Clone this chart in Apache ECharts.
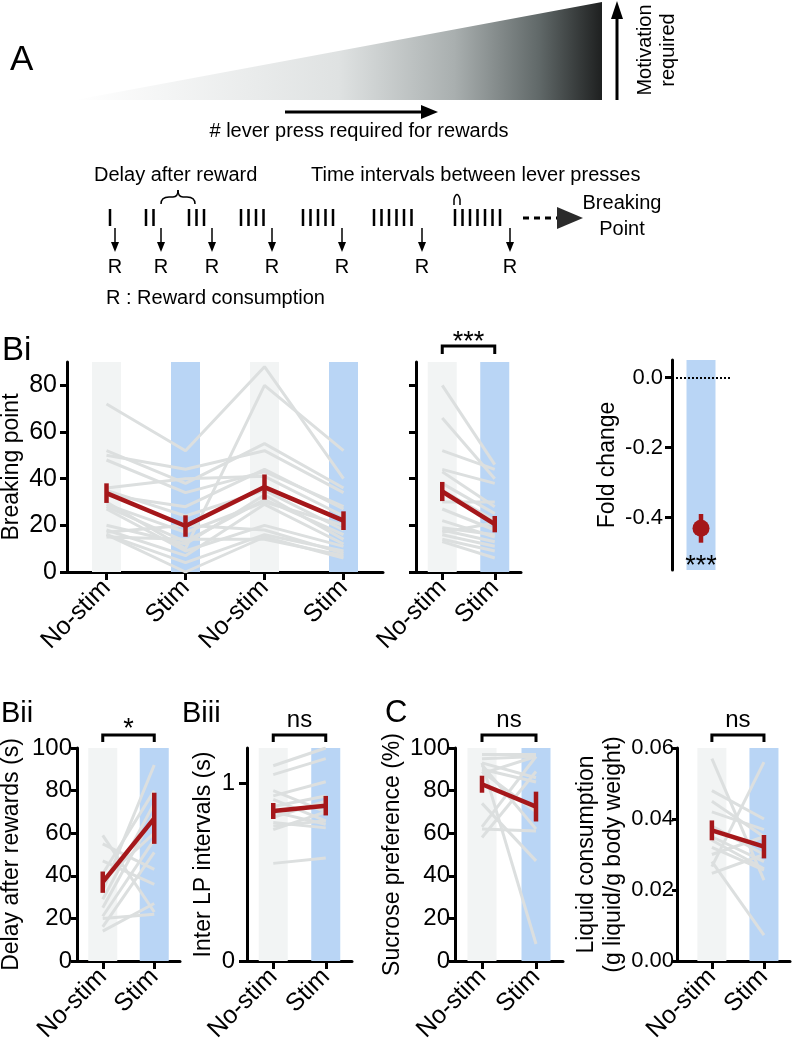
<!DOCTYPE html>
<html>
<head>
<meta charset="utf-8">
<script src="https://cdn.jsdelivr.net/npm/echarts@6/dist/echarts.min.js"></script>
<style>
  html, body { margin: 0; padding: 0; background: #fff; }
  #chart { width: 793px; height: 1047px; }
</style>
</head>
<body>
<div id="chart"></div>
<script>
// ---- data ----
const biCats = ['No-stim', 'Stim', 'No-stim', 'Stim']
const pairCats = ['No-stim', 'Stim']

// Bi: breaking point, each animal over 4 sessions
const biNoStimA = [72, 52, 50, 48, 36, 35, 33, 30, 28, 18, 17, 16, 16, 15, 29, 27, 20]
const biStimA = [52, 38, 44, 34, 40, 24, 28, 10, 13, 7, 20, 4, 0, 14, 17, 9, 12]
const biNoStimB = [88, 55, 52, 43, 41, 35, 44, 80, 31, 29, 18, 16, 15, 14, 30, 20, 33]
const biStimB = [40, 36, 34, 28, 24, 18, 27, 52, 16, 12, 8, 9, 6, 7, 20, 11, 14]
const biMean = [33.8, 19.7, 36.4, 22.0]
const biErr = [4.2, 4.6, 5.4, 4.0]

// Bi pooled
const poolNoStim = [80, 66, 52, 44, 43, 38, 35, 30, 27, 19, 18, 17, 16, 14, 13, 22]
const poolStim = [46, 40, 44, 38, 28, 25, 22, 30, 18, 16, 13, 21, 11, 9, 6, 15]
const poolMean = [34.5, 20.5]
const poolErr = [4.1, 3.5]

// Bi fold change
const foldMean = [-0.431]
const foldErr = [0.041]

// Bii delay after rewards (s)
const biiNoStim = [59, 55, 47, 41, 38, 33, 29, 25, 21, 16, 14, 20]
const biiStim = [23, 43, 36, 80, 60, 92, 74, 69, 57, 51, 27, 22]
const biiMean = [37, 67]
const biiErr = [5, 12]

// Biii inter LP intervals (s)
const biiiNoStim = [1.10, 1.05, 0.96, 0.93, 0.91, 0.87, 0.84, 0.81, 0.78, 0.76, 0.74, 0.55]
const biiiStim = [1.20, 1.14, 0.84, 1.01, 0.79, 0.93, 0.77, 0.90, 0.75, 0.79, 0.84, 0.58]
const biiiMean = [0.845, 0.875]
const biiiErr = [0.045, 0.055]

// C sucrose preference (%)
const sucNoStim = [97, 95, 93, 92, 90, 89, 88, 74, 63, 62, 58, 93]
const sucStim = [97, 96, 86, 62, 84, 70, 96, 47, 96, 61, 89, 8]
const sucMean = [83, 72.5]
const sucErr = [4, 7]

// C liquid consumption
const liqNoStim = [0.057, 0.048, 0.045, 0.042, 0.038, 0.035, 0.032, 0.030, 0.0266, 0.0247, 0.028, 0.034]
const liqStim = [0.0228, 0.040, 0.035, 0.037, 0.030, 0.028, 0.0256, 0.035, 0.056, 0.030, 0.0073, 0.026]
const liqMean = [0.0368, 0.0322]
const liqErr = [0.0028, 0.0033]

// schematic: presses per reward
const pressCounts = [1, 2, 3, 4, 5, 6, 7]

// ---- style ----
const FONT = 'Liberation Sans, Arial, sans-serif'
const RED = '#a5171a'
const GREY_LINE = '#dcdfdf'
const GREY_BG = '#f2f4f4'
const BLUE_BG = '#b9d5f5'
const BAR_W = 29

const chart = echarts.init(document.getElementById('chart'), null, { renderer: 'canvas' })

// panel layout
const panels = [
  { grid: { left: 67, top: 362, width: 316, height: 210 }, cats: biCats, xMin: -0.5, xMax: 3.5,
    yMin: 0, yMax: 90, ticks: [0, 20, 40, 60, 80], fs: 25, margin: 10, name: 'Breaking point', nameGap: 41 },
  { grid: { left: 416, top: 362, width: 105, height: 210 }, cats: pairCats, xMin: -0.5, xMax: 1.5,
    yMin: 0, yMax: 90, ticks: [0, 20, 40, 60, 80], labels: false },
  { grid: { left: 672, top: 360, width: 58, height: 210 }, cats: ['Stim'], xMin: -0.5, xMax: 0.5, noX: true,
    yMin: -0.55, yMax: 0.05, ticks: [-0.4, -0.2, 0], fs: 22, margin: 9, fmt: v => v.toFixed(1),
    name: 'Fold change', nameGap: 50 },
  { grid: { left: 77, top: 748, width: 103, height: 213 }, cats: pairCats, xMin: -0.5, xMax: 1.5,
    yMin: 0, yMax: 100, ticks: [0, 20, 40, 60, 80, 100], fs: 24, margin: 5, tickLen: 6,
    name: 'Delay after rewards (s)', nameGap: 52 },
  { grid: { left: 247, top: 748, width: 105, height: 213 }, cats: pairCats, xMin: -0.5, xMax: 1.5,
    yMin: 0, yMax: 1.2, ticks: [0, 1], fs: 24, margin: 12, tickLen: 8,
    name: 'Inter LP intervals (s)', nameGap: 30 },
  { grid: { left: 455, top: 748, width: 108, height: 213 }, cats: pairCats, xMin: -0.5, xMax: 1.5,
    yMin: 0, yMax: 100, ticks: [0, 20, 40, 60, 80, 100], fs: 24, margin: 5, tickLen: 6,
    name: 'Sucrose preference (%)', nameGap: 45 },
  { grid: { left: 677, top: 748, width: 113, height: 213 }, cats: pairCats, xMin: -0.67, xMax: 1.5,
    yMin: 0, yMax: 0.06, ticks: [0, 0.02, 0.04, 0.06], fs: 22, margin: 3, tickLen: 5, fmt: v => v.toFixed(2),
    name: 'Liquid consumption\n(g liquid/g body weight)', nameGap: 45 }
]

const grids = panels.map(p => Object.assign({ containLabel: false, outerBoundsMode: 'none' }, p.grid))

const xAxes = panels.map((p, i) => {
  const idx = p.cats.map((c, k) => k)
  return {
    gridIndex: i, type: 'value', min: p.xMin, max: p.xMax, show: !p.noX,
    axisLine: { show: true, onZero: false, lineStyle: { color: '#000', width: 3 } },
    axisTick: { show: true, length: 8, customValues: idx, lineStyle: { color: '#000', width: 3 } },
    axisLabel: {
      customValues: idx, rotate: 45, margin: 12, fontSize: 25, color: '#000', fontFamily: FONT,
      formatter: v => p.cats[Math.round(v)]
    },
    splitLine: { show: false }
  }
})

const yAxes = panels.map((p, i) => ({
  gridIndex: i, type: 'value', min: p.yMin, max: p.yMax,
  axisLine: { show: true, onZero: false, lineStyle: { color: '#000', width: 3 } },
  axisTick: { show: true, length: p.tickLen || 7, customValues: p.ticks, lineStyle: { color: '#000', width: 3 } },
  axisLabel: {
    show: p.labels !== false, customValues: p.ticks, margin: p.margin, fontSize: p.fs,
    color: '#000', fontFamily: FONT, formatter: p.fmt || (v => String(v))
  },
  splitLine: { show: false },
  name: p.name || '', nameLocation: 'middle', nameGap: p.nameGap, nameRotate: 90,
  nameTextStyle: { fontSize: 23, color: '#000', fontFamily: FONT, lineHeight: 27 }
}))

// shaded condition columns
function bgSeries(i, colors, lo, hi) {
  return {
    type: 'custom', xAxisIndex: i, yAxisIndex: i, silent: true, z: 1,
    encode: { x: 0, y: [1, 2] },
    data: colors.map((c, k) => [k, lo, hi]),
    renderItem: (params, api) => {
      const top = api.coord([api.value(0), api.value(2)])
      const bot = api.coord([api.value(0), api.value(1)])
      return {
        type: 'rect',
        shape: { x: top[0] - BAR_W / 2, y: top[1], width: BAR_W, height: bot[1] - top[1] },
        style: { fill: colors[params.dataIndex] }
      }
    }
  }
}

// one grey line per animal
function animalLines(i, cols) {
  return cols[0].map((v, s) => ({
    type: 'line', xAxisIndex: i, yAxisIndex: i, silent: true, z: 2, symbol: 'none',
    lineStyle: { color: GREY_LINE, width: 3 },
    data: cols.map((c, k) => [k, c[s]])
  }))
}

function meanLine(i, mean) {
  return {
    type: 'line', xAxisIndex: i, yAxisIndex: i, silent: true, z: 4, symbol: 'none',
    lineStyle: { color: RED, width: 4.5 },
    data: mean.map((m, k) => [k, m])
  }
}

function errBars(i, mean, err) {
  return {
    type: 'custom', xAxisIndex: i, yAxisIndex: i, silent: true, z: 5,
    encode: { x: 0, y: [1, 2] },
    data: mean.map((m, k) => [k, m - err[k], m + err[k]]),
    renderItem: (params, api) => {
      const a = api.coord([api.value(0), api.value(1)])
      const b = api.coord([api.value(0), api.value(2)])
      return {
        type: 'line',
        shape: { x1: a[0], y1: a[1], x2: b[0], y2: b[1] },
        style: { stroke: RED, lineWidth: 4.5, lineCap: 'butt' }
      }
    }
  }
}

// significance bracket above the two conditions
function bracket(i, yMax, text, lift, drop, textDy, fs) {
  return {
    type: 'custom', xAxisIndex: i, yAxisIndex: i, silent: true, z: 6, clip: false,
    encode: { x: 0, y: 1 },
    data: [[0, yMax]],
    renderItem: (params, api) => {
      const a = api.coord([0, yMax])
      const b = api.coord([1, yMax])
      const y = a[1] - lift
      return {
        type: 'group',
        children: [
          { type: 'polyline', shape: { points: [[a[0], y + drop], [a[0], y], [b[0], y], [b[0], y + drop]] },
            style: { stroke: '#000', lineWidth: 3, fill: null } },
          { type: 'text', style: {
            text: text, x: (a[0] + b[0]) / 2, y: y - textDy,
            textAlign: 'center', align: 'center', textVerticalAlign: 'middle', verticalAlign: 'middle',
            fontSize: fs, fontFamily: FONT, fill: '#000' } }
        ]
      }
    }
  }
}

const series = [
  // Bi sessions
  bgSeries(0, [GREY_BG, BLUE_BG, GREY_BG, BLUE_BG], 0, 90),
  ...animalLines(0, [biNoStimA, biStimA, biNoStimB, biStimB]),
  meanLine(0, biMean), errBars(0, biMean, biErr),
  // Bi pooled
  bgSeries(1, [GREY_BG, BLUE_BG], 0, 90),
  ...animalLines(1, [poolNoStim, poolStim]),
  meanLine(1, poolMean), errBars(1, poolMean, poolErr),
  bracket(1, 90, '***', 16, 8, 3, 27),
  // fold change
  bgSeries(2, [BLUE_BG], -0.55, 0.05),
  errBars(2, foldMean, foldErr),
  {
    type: 'scatter', xAxisIndex: 2, yAxisIndex: 2, silent: true, z: 6, symbolSize: 17,
    itemStyle: { color: RED, opacity: 1 },
    data: foldMean.map((m, k) => [k, m]),
    markLine: {
      silent: true, symbol: 'none', label: { show: false },
      lineStyle: { color: '#000', type: 'dotted', width: 2 },
      data: [{ yAxis: 0 }]
    }
  },
  {
    type: 'custom', xAxisIndex: 2, yAxisIndex: 2, silent: true, z: 6, clip: false,
    encode: { x: 0, y: 1 }, data: [[0, -0.541]],
    renderItem: (params, api) => {
      const p = api.coord([api.value(0), api.value(1)])
      return { type: 'text', style: { text: '***', x: p[0], y: p[1], textAlign: 'center', align: 'center',
        textVerticalAlign: 'middle', verticalAlign: 'middle', fontSize: 27, fontFamily: FONT, fill: '#000' } }
    }
  },
  // Bii
  bgSeries(3, [GREY_BG, BLUE_BG], 0, 100),
  ...animalLines(3, [biiNoStim, biiStim]),
  meanLine(3, biiMean), errBars(3, biiMean, biiErr),
  bracket(3, 100, '*', 13, 7, 5, 27),
  // Biii
  bgSeries(4, [GREY_BG, BLUE_BG], 0, 1.2),
  ...animalLines(4, [biiiNoStim, biiiStim]),
  meanLine(4, biiiMean), errBars(4, biiiMean, biiiErr),
  bracket(4, 1.2, 'ns', 13, 7, 15, 24),
  // C sucrose
  bgSeries(5, [GREY_BG, BLUE_BG], 0, 100),
  ...animalLines(5, [sucNoStim, sucStim]),
  meanLine(5, sucMean), errBars(5, sucMean, sucErr),
  bracket(5, 100, 'ns', 13, 7, 15, 24),
  // C liquid
  bgSeries(6, [GREY_BG, BLUE_BG], 0, 0.06),
  ...animalLines(6, [liqNoStim, liqStim]),
  meanLine(6, liqMean), errBars(6, liqMean, liqErr),
  bracket(6, 0.06, 'ns', 13, 7, 15, 24)
]

// ---- panel A schematic + panel letters ----
function txt(text, x, y, fs, align, extra) {
  return Object.assign({
    type: 'text', x: x, y: y, silent: true,
    style: { text: text, x: 0, y: 0, fontSize: fs, fontFamily: FONT, fill: '#000',
      textAlign: align || 'left', align: align || 'left', textVerticalAlign: 'middle', verticalAlign: 'middle' }
  }, extra || {})
}
function seg(x1, y1, x2, y2, w, extra) {
  return { type: 'line', silent: true, shape: { x1, y1, x2, y2 },
    style: Object.assign({ stroke: '#000', lineWidth: w }, extra || {}) }
}
function curve(x1, y1, cpx1, cpy1, x2, y2) {
  return { type: 'bezierCurve', silent: true, shape: { x1, y1, cpx1, cpy1, x2, y2 },
    style: { stroke: '#000', lineWidth: 1.5, fill: null } }
}
function head(points, fill) {
  return { type: 'polygon', silent: true, shape: { points }, style: { fill: fill || '#000' } }
}

const graphics = [
  txt('A', 10, 60, 35),
  txt('Bi', 2, 351, 33),
  txt('Bii', 1, 714, 29),
  txt('Biii', 182, 714, 29),
  txt('C', 385, 713, 31),
  {
    type: 'polygon', silent: true,
    shape: { points: [[75, 100], [602, 2], [602, 100]] },
    style: { fill: new echarts.graphic.LinearGradient(0, 0, 1, 0, [
      { offset: 0, color: '#ffffff' }, { offset: 0.5, color: '#dfe2e2' },
      { offset: 0.72, color: '#a9afaf' }, { offset: 0.88, color: '#616969' },
      { offset: 1, color: '#1e2020' }]) }
  },
  seg(617, 100, 617, 16, 3), head([[617, 1], [611, 19], [623, 19]]),
  txt('Motivation', 645, 50, 20, 'center', { rotation: Math.PI / 2 }),
  txt('required', 668, 50, 20, 'center', { rotation: Math.PI / 2 }),
  seg(285, 112, 424, 112, 3), head([[438, 112], [421, 105], [421, 119]]),
  txt('# lever press required for rewards', 359, 131, 20, 'center'),
  txt('Delay after reward', 94, 175, 20),
  txt('Time intervals between lever presses', 311, 175, 20),
  // brace under "Delay after reward"
  curve(161, 204, 161, 197, 169, 197), seg(169, 197, 173, 197, 1.5),
  curve(173, 197, 178, 197, 178, 190), curve(178, 190, 178, 197, 183, 197),
  seg(183, 197, 187, 197, 1.5), curve(187, 197, 195, 197, 195, 204),
  // small arch over two presses
  seg(454, 205, 454, 199, 1.5), curve(454, 199, 457, 190, 460, 199), seg(460, 199, 460, 205, 1.5),
  seg(523, 218, 558, 218, 3, { lineDash: [6, 5] }), head([[583, 218], [557, 207], [557, 229]], '#2b2b2b'),
  txt('Breaking', 622, 203, 20, 'center'),
  txt('Point', 622, 229, 20, 'center'),
  txt('R : Reward consumption', 106, 298, 20)
]

const groupStart = [110, 146, 189, 241, 303, 374, 455]
const rewardX = [115, 161, 212, 272, 342, 422, 510]
pressCounts.forEach((n, g) => {
  for (let k = 0; k < n; k++) {
    const x = groupStart[g] + k * 7.5
    graphics.push(seg(x, 209, x, 226, 2.5))
  }
  const rx = rewardX[g]
  graphics.push(seg(rx, 228, rx, 244, 1.5))
  graphics.push(head([[rx, 252], [rx - 4, 242], [rx + 4, 242]]))
  graphics.push(txt('R', rx, 267, 20, 'center'))
})

chart.setOption({
  animation: false,
  textStyle: { fontFamily: FONT },
  grid: grids,
  xAxis: xAxes,
  yAxis: yAxes,
  series: series,
  graphic: { elements: graphics }
})
</script>
</body>
</html>
